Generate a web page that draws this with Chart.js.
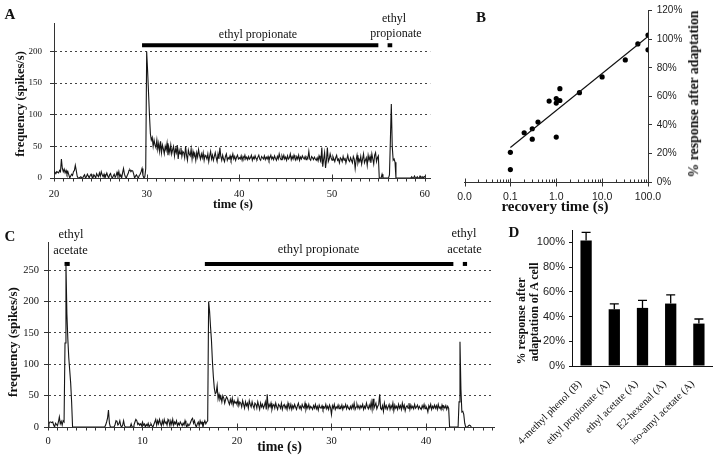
<!DOCTYPE html>
<html><head><meta charset="utf-8">
<script src="https://cdn.jsdelivr.net/npm/chart.js@4.4.1/dist/chart.umd.min.js"></script>
<style>
html,body{margin:0;padding:0;background:#fff;}
#wrap{position:relative;width:720px;height:457px;overflow:hidden;background:#fff;}
#wrap canvas{position:absolute;}
.t{position:absolute;white-space:nowrap;line-height:1;color:#111;font-family:"Liberation Serif","Times New Roman",serif;}
</style></head><body>
<div id="wrap">
<canvas id="cA" width="440" height="215" style="left:0px;top:0px"></canvas>
<canvas id="cB" width="280" height="215" style="left:440px;top:0px"></canvas>
<canvas id="cC" width="500" height="242" style="left:0px;top:215px"></canvas>
<canvas id="cD" width="220" height="242" style="left:500px;top:215px"></canvas>
</div>
<script>
// ---------- DATA ----------
// Panel A: firing frequency trace (spikes/s), sampled every 0.1 s from 20 s
const A_T0 = 20, A_DT = 0.1;
const A_FREQ = [
 8,9,7,10,9,8,12,10,30,15,
 10,14,8,12,6,10,5,0,3,6,
 4,10,12,20,12,3,0,0,0,2,
 0,0,3,5,0,2,6,3,0,4,
 6,2,0,5,3,0,7,4,2,8,
 3,10,5,2,6,0,4,8,3,0,
 5,7,2,0,3,6,1,4,9,3,
 10,2,5,0,8,15,6,2,0,4,
 7,12,13,10,12,11,6,0,3,5,
 2,0,4,6,10,15,4,0,2,15,
 200,170,135,100,70,60,64,50,60,52,
 48,60,45,55,42,58,40,52,46,38,
 50,44,55,36,48,40,52,38,45,50,
 35,46,40,52,30,44,38,48,34,42,
 40,32,50,36,28,44,38,35,46,30,
 42,34,38,28,40,33,45,36,30,38,
 32,40,28,36,34,30,38,26,35,42,
 30,36,28,34,40,32,26,38,30,48,
 34,28,36,30,26,34,38,28,32,30,
 35,28,32,38,30,34,28,33,36,30,
 32,30,35,28,34,31,36,30,33,29,
 34,30,32,36,28,33,30,35,31,29,
 33,36,30,28,34,32,30,35,29,33,
 30,34,28,32,36,30,33,29,35,31,
 28,34,30,38,32,29,35,31,36,30,
 33,28,35,30,32,38,29,34,30,36,
 31,29,34,30,36,28,33,30,35,32,
 30,34,29,33,31,42,30,28,34,32,
 29,33,30,28,32,27,35,30,26,48,
 18,30,40,16,28,48,26,30,38,32,
 28,34,30,26,32,36,28,30,24,32,
 30,26,34,28,32,24,30,36,28,26,
 32,28,24,34,30,15,28,36,24,30,
 26,34,22,30,38,24,28,32,20,36,
 28,34,24,38,30,22,36,40,26,32,
 35,0,0,0,6,0,0,0,0,0,
 0,0,5,60,117,50,28,30,25,0,
 0,0,0,0,0,0,0,0,0,0,
 0,0,0,0,0,0,2,0,0,3,
 0,0,2,0,0,3,0,0,2,0,
 3
];
const A_STIM_MAIN = [29.5, 55.0];
const A_STIM_SHORT = [56.0, 56.5];
const A_STIM_LEVEL = 210;
const A_XTICKS = [20, 30, 40, 50, 60];
const A_YTICKS = [0, 50, 100, 150, 200];

// Panel B: recovery time (s) vs % response after adaptation
const B_X = [0.1, 0.1, 0.2, 0.3, 0.3, 0.4, 0.7, 1.0, 1.0, 1.0, 1.2, 1.2, 3.2, 10, 32, 60, 100, 100];
const B_Y = [20.8, 8.7, 34.5, 37.3, 30, 42, 56.7, 58.5, 55.3, 31.5, 57.1, 65.4, 62.6, 73.6, 85.5, 96.7, 102.9, 92.6];
const B_FIT_X = [0.1, 100];
const B_FIT_Y = [24.2, 102];
const B_XTICKS = [0.01, 0.1, 1, 10, 100];
const B_XLABELS = ['0.0', '0.1', '1.0', '10.0', '100.0'];
const B_YTICKS = [0, 20, 40, 60, 80, 100, 120];

// Panel C: firing frequency trace, sampled every 0.1 s from 0 s
const C_T0 = 0, C_DT = 0.1;
const C_FREQ = [
 0,5,8,8,7,8,3,0,6,4,
 2,8,16,5,9,3,10,8,134,260,
 180,140,110,90,70,40,0,0,0,0,
 0,0,0,0,0,0,0,0,0,0,
 0,0,0,0,0,0,0,0,0,0,
 0,0,0,0,0,0,0,0,0,0,
 0,3,8,14,27,6,0,0,0,0,
 0,4,10,9,3,5,10,2,0,3,
 10,2,0,0,0,0,0,0,5,0,
 0,3,8,12,10,4,6,3,5,2,
 8,3,5,0,4,2,6,0,3,5,
 2,0,4,8,12,3,10,5,12,6,
 2,10,4,12,6,8,3,12,9,2,
 10,4,12,3,8,5,10,2,6,3,
 8,5,2,6,3,10,4,0,5,2,
 4,8,12,14,6,10,3,0,5,8,
 2,10,5,8,0,6,10,5,8,10,
 200,185,160,138,105,80,62,53,55,66,
 45,52,44,48,40,50,46,38,44,48,
 45,40,36,44,38,46,35,42,38,40,
 36,44,34,40,38,32,42,36,30,40,
 34,38,30,42,36,32,40,34,30,38,
 36,30,40,34,28,38,32,36,30,34,
 40,28,52,30,36,32,38,28,34,36,
 30,38,32,28,36,34,30,38,28,34,
 36,30,34,28,38,32,30,36,28,34,
 30,36,32,28,34,38,30,33,28,36,
 32,30,38,28,34,30,36,29,33,31,
 28,34,30,36,29,33,27,35,31,30,
 34,28,32,30,36,29,33,28,35,31,
 20,34,30,36,28,32,30,35,29,33,
 30,35,28,33,31,36,29,34,30,28,
 33,29,35,30,38,28,32,36,30,34,
 29,34,31,36,28,33,30,38,32,29,
 35,30,40,28,45,30,34,38,29,33,
 36,52,30,28,34,25,38,30,34,28,
 32,36,28,34,30,38,26,35,30,33,
 28,36,30,34,28,38,30,35,26,32,
 34,30,38,28,35,30,33,29,36,30,
 32,35,29,33,30,28,34,30,36,29,
 33,30,24,34,30,36,28,33,30,35,
 30,34,28,36,30,32,28,35,30,33,
 30,34,28,33,30,0,0,0,0,0,
 0,0,0,0,0,40,136,60,24,25,
 20,6,0,0,0,2,3,2,0
];
const C_STIM_ACET1 = [1.75, 2.3];
const C_STIM_PROP = [16.6, 42.9];
const C_STIM_ACET2 = [43.9, 44.35];
const C_STIM_LEVEL = 260;
const C_XTICKS = [0, 10, 20, 30, 40];
const C_YTICKS = [0, 50, 100, 150, 200, 250];

// Panel D: % response after adaptation of A cell
const D_LABELS = ['4-methyl phenol (B)', 'ethyl propionate (A)', 'ethyl acetate (A)', 'E2-hexenal (A)', 'iso-amyl acetate (A)'];
const D_VALUES = [101.5, 45.9, 47, 50.5, 34.3];
const D_SEM = [6.5, 4.4, 6.0, 7.0, 3.7];
const D_YTICKS = [0, 20, 40, 60, 80, 100];

// ---------- HELPERS ----------
const SERIF = '"Liberation Serif", "Times New Roman", serif';
const SANS = '"Liberation Sans", Arial, sans-serif';
Chart.defaults.font.family = SERIF;
const AX = '#333';

function trace(t0, dt, vals) { return vals.map((v, i) => ({ x: +(t0 + i * dt).toFixed(2), y: v })); }
function stim(r, lvl) { return [{ x: r[0], y: lvl }, { x: r[1], y: lvl }]; }
function setTicks(arr) { return s => { s.ticks = arr.map(v => ({ value: v })); }; }
function stimDs(r, lvl) { return { data: stim(r, lvl), borderColor: '#000', borderWidth: 4, pointRadius: 0, borderCapStyle: 'butt', tension: 0 }; }

const xTickPlugin = {
  id: 'xTickMarks',
  afterDraw(chart, args, o) {
    if (!o || !o.major) return;
    const ctx = chart.ctx, s = chart.scales.x, yb = Math.round(chart.chartArea.bottom) + 0.5;
    ctx.save(); ctx.strokeStyle = AX; ctx.lineWidth = 1; ctx.beginPath();
    o.minor.forEach(v => { const px = Math.round(s.getPixelForValue(v)) + 0.5; ctx.moveTo(px, yb + o.minA); ctx.lineTo(px, yb + o.minB); });
    o.major.forEach(v => { const px = Math.round(s.getPixelForValue(v)) + 0.5; ctx.moveTo(px, yb - o.majUp); ctx.lineTo(px, yb + o.majDown); });
    ctx.stroke(); ctx.restore();
  }
};

function minorLinear(a, b, step, majorStep) {
  const out = [];
  for (let v = a; v <= b + 1e-9; v += step) { const r = Math.round(v * 100) / 100; if (Math.abs(r / majorStep - Math.round(r / majorStep)) > 1e-6) out.push(r); }
  return out;
}
function minorLog(decades) {
  const out = [];
  decades.forEach(d => { for (let k = 2; k <= 9; k++) out.push(d * k); });
  return out;
}

function traceOptions(cfg) {
  return {
    responsive: false, animation: false, events: [],
    layout: { padding: cfg.pad },
    plugins: { legend: { display: false }, tooltip: { enabled: false }, xTickMarks: cfg.marks },
    scales: {
      x: {
        type: 'linear', min: cfg.xmin, max: cfg.xmax,
        afterBuildTicks: setTicks(cfg.xticks), afterFit: s => { s.height = cfg.xh; },
        grid: { display: false, drawTicks: false },
        border: { display: true, color: AX, width: 1 },
        ticks: { padding: cfg.xpad, maxRotation: 0, autoSkip: false, color: '#111', font: { family: SERIF, size: 10.5 } }
      },
      y: {
        min: 0, max: cfg.ymax,
        afterBuildTicks: setTicks(cfg.yticks), afterFit: s => { s.width = cfg.yw; },
        grid: { color: c => (c.tick && c.tick.value === 0) ? 'rgba(0,0,0,0)' : '#444', tickColor: AX, tickLength: 4, lineWidth: 1 },
        border: { display: true, color: AX, width: 1, dash: [2, 3] },
        ticks: { padding: cfg.ypad, color: '#111', font: { family: SERIF, size: cfg.yfont } }
      }
    }
  };
}

// ---------- PANEL A ----------
new Chart(document.getElementById('cA'), {
  type: 'line',
  data: { datasets: [
    { data: trace(A_T0, A_DT, A_FREQ), borderColor: '#151515', borderWidth: 1.1, pointRadius: 0, tension: 0 },
    stimDs(A_STIM_MAIN, A_STIM_LEVEL),
    stimDs(A_STIM_SHORT, A_STIM_LEVEL)
  ] },
  options: traceOptions({
    pad: { top: 23, right: 5, left: 0, bottom: 0 }, xmin: 20, xmax: 60.6, xticks: A_XTICKS, xh: 37, xpad: 10,
    ymax: 245, yticks: A_YTICKS, yw: 54, ypad: 8, yfont: 9,
    marks: { major: A_XTICKS, minor: minorLinear(21, 60, 1, 10), minA: 0, minB: 3, majUp: 4, majDown: 3 }
  }),
  plugins: [xTickPlugin]
});

// ---------- PANEL C ----------
new Chart(document.getElementById('cC'), {
  type: 'line',
  data: { datasets: [
    { data: trace(C_T0, C_DT, C_FREQ), borderColor: '#151515', borderWidth: 1.1, pointRadius: 0, tension: 0 },
    stimDs(C_STIM_ACET1, C_STIM_LEVEL),
    stimDs(C_STIM_PROP, C_STIM_LEVEL),
    stimDs(C_STIM_ACET2, C_STIM_LEVEL)
  ] },
  options: traceOptions({
    pad: { top: 27, right: 6, left: 0, bottom: 0 }, xmin: 0, xmax: 47.2, xticks: C_XTICKS, xh: 30, xpad: 8,
    ymax: 295, yticks: C_YTICKS, yw: 48, ypad: 5, yfont: 10.5,
    marks: { major: C_XTICKS, minor: minorLinear(1, 47, 1, 10), minA: 0, minB: 3, majUp: 4, majDown: 3 }
  }),
  plugins: [xTickPlugin]
});

// ---------- PANEL B ----------
new Chart(document.getElementById('cB'), {
  type: 'scatter',
  data: { datasets: [
    { data: B_FIT_X.map((x, i) => ({ x, y: B_FIT_Y[i] })), showLine: true, borderColor: '#111', borderWidth: 1.2, pointRadius: 0 },
    { data: B_X.map((x, i) => ({ x, y: B_Y[i] })), pointRadius: 2.6, backgroundColor: '#000', borderWidth: 0 }
  ] },
  options: {
    responsive: false, animation: false, events: [],
    layout: { padding: { top: 7, left: 24.5, right: 0, bottom: 0 } },
    plugins: { legend: { display: false }, tooltip: { enabled: false },
      xTickMarks: { major: B_XTICKS, minor: minorLog([0.01, 0.1, 1, 10]), minA: -3, minB: 0, majUp: 4, majDown: 4 } },
    scales: {
      x: {
        type: 'logarithmic', min: 0.01, max: 100,
        afterBuildTicks: setTicks(B_XTICKS), afterFit: s => { s.height = 33; },
        grid: { display: false, drawTicks: false },
        border: { display: true, color: AX, width: 1 },
        ticks: { padding: 9, maxRotation: 0, autoSkip: false, color: '#222', font: { family: SANS, size: 10.5 }, callback: (v, i) => B_XLABELS[i] }
      },
      y: {
        position: 'right', min: 0, max: 120,
        afterBuildTicks: setTicks(B_YTICKS), afterFit: s => { s.width = 72; },
        grid: { drawOnChartArea: false, tickLength: 4, color: AX },
        border: { display: true, color: AX, width: 1 },
        ticks: { padding: 4.7, color: '#222', font: { family: SANS, size: 10 }, callback: v => v + '%' }
      }
    }
  },
  plugins: [xTickPlugin]
});

// ---------- PANEL D ----------
const errPlugin = {
  id: 'errBars',
  afterDatasetsDraw(chart) {
    const ctx = chart.ctx, meta = chart.getDatasetMeta(0), ys = chart.scales.y;
    ctx.save(); ctx.strokeStyle = '#000'; ctx.lineWidth = 1.3; ctx.beginPath();
    meta.data.forEach((el, i) => {
      const yt = ys.getPixelForValue(D_VALUES[i] + D_SEM[i]);
      ctx.moveTo(el.x, el.y); ctx.lineTo(el.x, yt);
      ctx.moveTo(el.x - 4.5, yt); ctx.lineTo(el.x + 4.5, yt);
    });
    ctx.stroke(); ctx.restore();
  }
};
new Chart(document.getElementById('cD'), {
  type: 'bar',
  data: { labels: D_LABELS, datasets: [{ data: D_VALUES, backgroundColor: '#000', barPercentage: 0.5, categoryPercentage: 0.8 }] },
  options: {
    responsive: false, animation: false, events: [],
    layout: { padding: { top: 15, right: 2, left: 0, bottom: 0 } },
    plugins: { legend: { display: false }, tooltip: { enabled: false } },
    scales: {
      x: {
        afterFit: s => { s.height = 91; },
        grid: { display: false, drawTicks: false },
        border: { display: true, color: '#111', width: 1 },
        ticks: { padding: 12, labelOffset: -6, minRotation: 45, maxRotation: 45, autoSkip: false, color: '#111', font: { family: SERIF, size: 10.5 } }
      },
      y: {
        min: 0, max: 110,
        afterBuildTicks: setTicks(D_YTICKS), afterFit: s => { s.width = 72; },
        grid: { drawOnChartArea: false, tickLength: 3, color: '#111' },
        border: { display: true, color: '#111', width: 1 },
        ticks: { padding: 4, color: '#222', font: { family: SANS, size: 11 }, callback: v => v + '%' }
      }
    }
  },
  plugins: [errPlugin]
});

// ---------- TEXT LABELS ----------
const TEXTS = [
  { t: 'A', x: 10, y: 14, s: 15, b: 1 },
  { t: 'B', x: 481, y: 16.5, s: 15, b: 1 },
  { t: 'C', x: 10, y: 235.5, s: 15, b: 1 },
  { t: 'D', x: 514, y: 232, s: 15, b: 1 },
  { t: 'ethyl propionate', x: 258, y: 33.5, s: 12 },
  { t: 'ethyl', x: 394, y: 17.5, s: 12 },
  { t: 'propionate', x: 396, y: 33, s: 12 },
  { t: 'frequency (spikes/s)', x: 20, y: 103.5, s: 12.5, b: 1, r: -90 },
  { t: 'time (s)', x: 233, y: 204, s: 12.5, b: 1 },
  { t: '% response after adaptation', x: 694, y: 93.5, s: 13.8, b: 1, r: -90 },
  { t: 'recovery time (s)', x: 555, y: 206, s: 15, b: 1 },
  { t: 'ethyl', x: 71, y: 234, s: 12.5 },
  { t: 'acetate', x: 70.5, y: 249.5, s: 12.5 },
  { t: 'ethyl propionate', x: 318.5, y: 249, s: 12.5 },
  { t: 'ethyl', x: 464, y: 233, s: 12.5 },
  { t: 'acetate', x: 464.5, y: 249, s: 12.5 },
  { t: 'frequency (spikes/s)', x: 12, y: 341.5, s: 13, b: 1, r: -90 },
  { t: 'time (s)', x: 279.5, y: 447, s: 14, b: 1 },
  { t: '% response after', x: 521, y: 321, s: 12, b: 1, r: -90 },
  { t: 'adaptation of A cell', x: 533.5, y: 312, s: 12, b: 1, r: -90 }
];
const wrap = document.getElementById('wrap');
TEXTS.forEach(L => {
  const d = document.createElement('div');
  d.className = 't'; d.textContent = L.t;
  d.style.left = L.x + 'px'; d.style.top = L.y + 'px';
  d.style.fontSize = L.s + 'px'; d.style.fontWeight = L.b ? 'bold' : 'normal';
  d.style.transform = 'translate(-50%,-50%)' + (L.r ? ' rotate(' + L.r + 'deg)' : '');
  wrap.appendChild(d);
});
</script>
</body></html>
